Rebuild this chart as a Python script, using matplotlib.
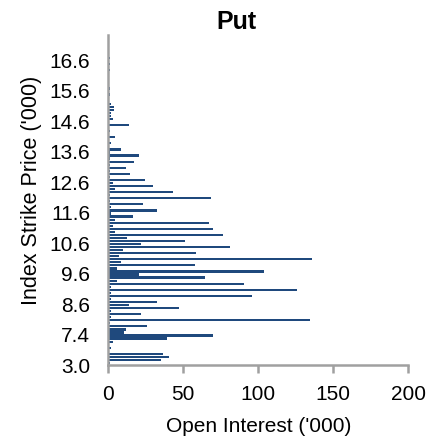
import numpy as np
import matplotlib
matplotlib.use("Agg")
import matplotlib.pyplot as plt
from matplotlib.transforms import ScaledTranslation

plt.rcParams['font.family'] = ['Liberation Sans', 'DejaVu Sans']

## strikes ('000), bottom to top ##
strikes = ([3.0, 4.0, 5.0, 5.6, 6.0, 6.6, 6.8, 7.0, 7.2, 7.3,
            7.4, 7.5, 7.6, 7.8, 8.0, 8.1, 8.2, 8.3, 8.4, 8.5]
           + [round(8.6 + 0.1 * k, 1) for k in range(88)])

## put open interest ('000), same order ##
open_interest = [
    1.0, 35.2, 40.3, 36.5, 0.0, 1.9, 0.0, 3.2, 39.2, 69.7,
    10.3, 11.5, 25.9, 1.0, 134.8, 1.5, 21.8, 1.5, 47.0, 13.7,
    32.6, 1.5, 96.1, 1.5, 125.5, 1.5, 90.8, 6.0, 64.2, 20.4,
    104.1, 5.9, 57.7, 8.6, 135.9, 7.0, 58.8, 9.9, 81.4, 21.9,
    51.1, 12.5, 76.2, 4.8, 69.7, 3.2, 67.0, 4.8, 16.6, 1.9,
    32.6, 1.9, 23.2, 1.0, 68.2, 1.0, 43.1, 4.8, 29.9, 3.2,
    24.5, 1.0, 14.2, 1.0, 11.6, 1.0, 16.9, 1.0, 20.3, 1.0,
    8.6, 0.0, 1.9, 0.0, 4.8, 0.0, 1.0, 0.0, 13.7, 0.0,
    3.0, 1.5, 2.0, 3.5, 3.7, 2.0, 0.0, 0.0, 1.3, 0.0,
    1.3, 0.0, 0.0, 0.0, 0.0, 0.0, 1.3, 0.0, 1.3, 0.0,
    1.3, 0.0, 0.0, 0.0, 0.0, 0.0, 0.0, 0.0,
]

x_ticks = [0, 50, 100, 150, 200]
label_every = 10

fig = plt.figure(figsize=(4.42, 4.38), dpi=100)
ax = fig.add_axes([0.245, 0.1678, 0.6787, 0.7522])

pos = np.arange(len(strikes))
ax.barh(pos, open_interest, height=0.72, color='#1f497d', linewidth=0)

ax.set_ylim(-0.5, len(strikes) - 0.5)
ax.set_xlim(0, 200)
ax.set_xticks(x_ticks)
ax.set_yticks(pos[::label_every])
ax.set_yticklabels([f"{s:.1f}" for s in strikes[::label_every]])

for side in ['top', 'right']:
    ax.spines[side].set_visible(False)
for side in ['left', 'bottom']:
    ax.spines[side].set_color('#a0a0a0')
    ax.spines[side].set_linewidth(1.8)

ax.tick_params(axis='x', direction='out', length=6, width=1.8, color='#a0a0a0',
               labelsize=15, pad=9)
ax.tick_params(axis='y', length=0, labelsize=15, pad=13)

# excel draws the category labels a touch lower than the bar centres
shift = ScaledTranslation(0, -2.5 / 100, fig.dpi_scale_trans)
for lab in ax.get_yticklabels():
    lab.set_transform(lab.get_transform() + shift)

ax.set_title("Put", fontsize=18, fontweight='bold', pad=4, x=0.427)
ax.set_xlabel("Open Interest ('000)", fontsize=15, labelpad=9)
ax.set_ylabel("Index Strike Price ('000)", fontsize=15.5, labelpad=4)
ax.yaxis.set_label_coords(-0.221, 0.53)

fig.savefig("out.png", dpi=100)
